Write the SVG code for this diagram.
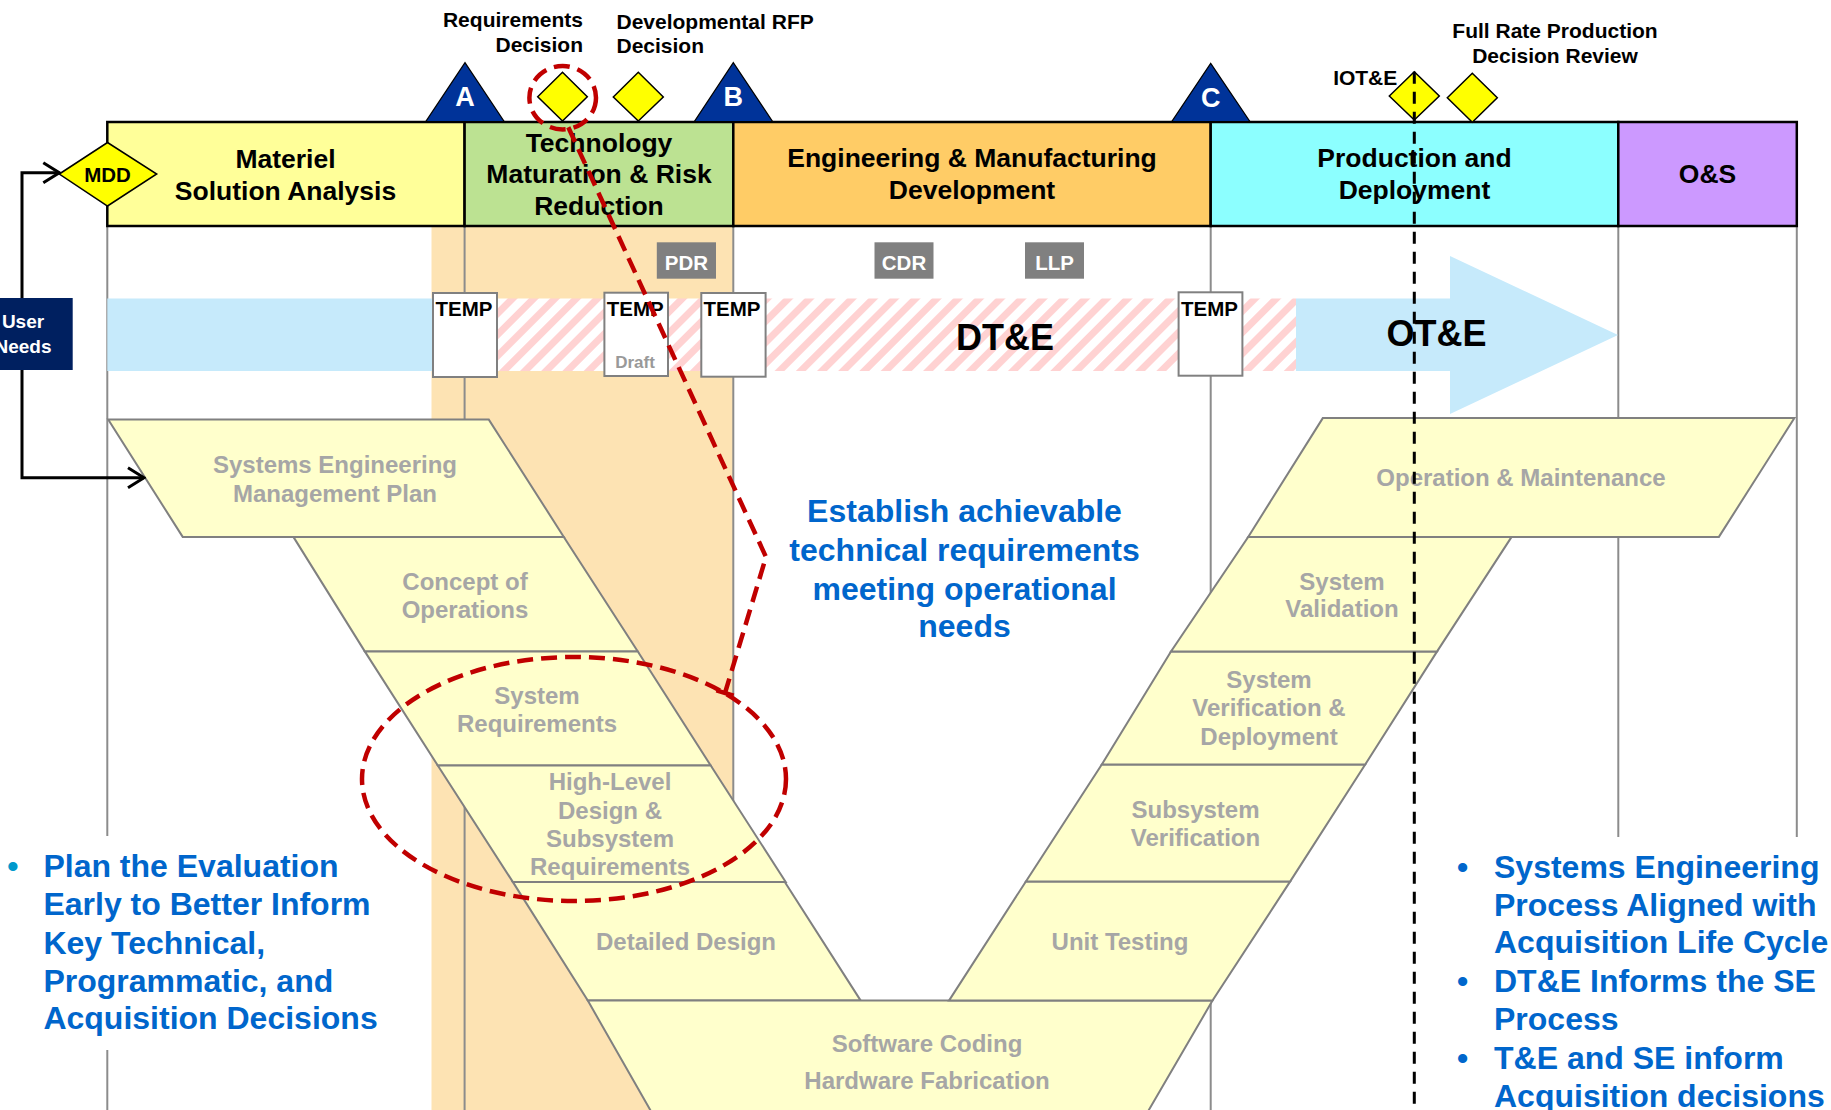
<svg xmlns="http://www.w3.org/2000/svg" width="1831" height="1110" viewBox="0 0 1831 1110">
  <defs>
    <style>
      text { font-family: "Liberation Sans", Arial, sans-serif; font-weight: bold; }
      .phase { stroke: #000; stroke-width: 2.5; }
      .ph { font-size: 26.5px; fill: #000; text-anchor: middle; }
      .top { font-size: 21px; fill: #000; }
      .ms { fill: #003399; stroke: #000; stroke-width: 1.2; }
      .msl { font-size: 27px; fill: #fff; text-anchor: middle; }
      .dec { fill: #FFFF00; stroke: #000; stroke-width: 1.5; }
      .grid { stroke: #8C8C8C; stroke-width: 2; fill: none; }
      .temp { fill: #fff; stroke: #808080; stroke-width: 2; }
      .tempt { font-size: 20.5px; fill: #000; }
      .rev { fill: #808080; }
      .revt { font-size: 20.5px; fill: #fff; text-anchor: middle; }
      .v { fill: #FFFFCC; stroke: #808080; stroke-width: 2; }
      .vt { font-size: 24px; fill: #A6A6A6; text-anchor: middle; }
      .blue { font-size: 32px; fill: #0066CC; }
      .red { fill: none; stroke: #C00000; stroke-width: 4.5; stroke-dasharray: 16 8; }
      .conn { fill: none; stroke: #000; stroke-width: 3; }
    </style>
    <pattern id="hatch" width="15" height="15" patternUnits="userSpaceOnUse" patternTransform="rotate(45)">
      <rect width="15" height="15" fill="#fff"/>
      <rect width="7" height="15" fill="#FFD2D2"/>
    </pattern>
    <marker id="open" viewBox="0 0 20 24" refX="18" refY="12" markerWidth="20" markerHeight="24" markerUnits="userSpaceOnUse" orient="auto">
      <path d="M2,2 L18,12 L2,22" fill="none" stroke="#000" stroke-width="3"/>
    </marker>
  </defs>

  <rect width="1831" height="1110" fill="#fff"/>

  <!-- TMRR shaded column -->
  <rect x="431.5" y="226" width="301.8" height="884" fill="#FDE3B3"/>

  <!-- phase boundary rules -->
  <g id="rules" class="grid">
    <line x1="107.3" y1="226" x2="107.3" y2="1110"/>
    <line x1="464.6" y1="226" x2="464.6" y2="1110"/>
    <line x1="733.3" y1="226" x2="733.3" y2="1110"/>
    <line x1="1210.7" y1="226" x2="1210.7" y2="1110"/>
    <line x1="1618.3" y1="226" x2="1618.3" y2="1110"/>
    <line x1="1796.8" y1="226" x2="1796.8" y2="1110"/>
  </g>

  <!-- clear areas behind the bullet lists -->
  <rect x="0" y="836" width="390" height="214" fill="#fff"/>
  <rect x="1440" y="837" width="391" height="273" fill="#fff"/>

  <!-- test bands -->
  <g id="bands">
    <rect x="107.3" y="298.5" width="324.7" height="72.5" fill="#C6EAFB"/>
    <rect x="432" y="298.5" width="864" height="72.5" fill="url(#hatch)"/>
    <polygon points="1296,298.5 1450,298.5 1450,256 1618,335 1450,414 1450,371 1296,371" fill="#C6EAFB"/>
    <text x="1005" y="350" font-size="36" text-anchor="middle" fill="#000">DT&amp;E</text>
    <text x="1436.5" y="346" font-size="36" text-anchor="middle" fill="#000">OT&amp;E</text>
  </g>

  <!-- TEMP documents -->
  <g id="temp1">
    <rect class="temp" x="433" y="293" width="64" height="84"/>
    <text class="tempt" x="435.5" y="316">TEMP</text>
  </g>
  <g id="temp2">
    <rect class="temp" x="604.4" y="292.7" width="63.6" height="83.3"/>
    <text class="tempt" x="606.7" y="315.5">TEMP</text>
    <text x="635" y="367.5" font-size="17" fill="#999" text-anchor="middle">Draft</text>
  </g>
  <g id="temp3">
    <rect class="temp" x="701.3" y="293" width="64.3" height="83.7"/>
    <text class="tempt" x="703.5" y="315.5">TEMP</text>
  </g>
  <g id="temp4">
    <rect class="temp" x="1178.6" y="292.3" width="63.8" height="83.4"/>
    <text class="tempt" x="1181" y="315.5">TEMP</text>
  </g>

  <!-- technical reviews -->
  <g id="pdr">
    <rect class="rev" x="656.8" y="242.3" width="59.2" height="36.4"/>
    <text class="revt" x="686.4" y="269.5">PDR</text>
  </g>
  <g id="cdr">
    <rect class="rev" x="874.5" y="242.3" width="59" height="36.4"/>
    <text class="revt" x="904" y="269.5">CDR</text>
  </g>
  <g id="llp">
    <rect class="rev" x="1025" y="242.3" width="59" height="36.4"/>
    <text class="revt" x="1054.5" y="269.5">LLP</text>
  </g>

  <!-- acquisition phases -->
  <g id="phase-msa">
    <rect class="phase" x="107.3" y="122" width="357.3" height="104" fill="#FFFF99"/>
    <text class="ph" x="285.5" y="168">Materiel</text>
    <text class="ph" x="285.5" y="200">Solution Analysis</text>
  </g>
  <g id="phase-tmrr">
    <rect class="phase" x="464.6" y="122" width="268.7" height="104" fill="#BCE292"/>
    <text class="ph" x="599" y="151.5">Technology</text>
    <text class="ph" x="599" y="182.7">Maturation &amp; Risk</text>
    <text class="ph" x="599" y="215">Reduction</text>
  </g>
  <g id="phase-emd">
    <rect class="phase" x="733.3" y="122" width="477.4" height="104" fill="#FFCC66"/>
    <text class="ph" x="972" y="167">Engineering &amp; Manufacturing</text>
    <text class="ph" x="972" y="199">Development</text>
  </g>
  <g id="phase-pd">
    <rect class="phase" x="1210.7" y="122" width="407.6" height="104" fill="#8CFFFF"/>
    <text class="ph" x="1414.5" y="167">Production and</text>
    <text class="ph" x="1414.5" y="199">Deployment</text>
  </g>
  <g id="phase-os">
    <rect class="phase" x="1618.3" y="122" width="178.5" height="104" fill="#CC99FF"/>
    <text class="ph" x="1707.5" y="183">O&amp;S</text>
  </g>

  <!-- milestones -->
  <g id="milestone-a">
    <polygon class="ms" points="425.7,121.7 465,62.7 504.3,121.7"/>
    <text class="msl" x="465" y="106">A</text>
  </g>
  <g id="milestone-b">
    <polygon class="ms" points="694.3,121.7 733.3,62.7 772.7,121.7"/>
    <text class="msl" x="733.3" y="106">B</text>
  </g>
  <g id="milestone-c">
    <polygon class="ms" points="1171.7,121.7 1210.7,63.3 1250,121.7"/>
    <text class="msl" x="1210.7" y="106.5">C</text>
  </g>

  <!-- decision points -->
  <g id="mdd">
    <polygon class="dec" points="59.3,174 107.5,142.5 156.7,174 107.5,206"/>
    <text x="107.5" y="181.7" font-size="20.5" text-anchor="middle" fill="#000">MDD</text>
  </g>
  <g id="req-decision">
    <polygon class="dec" points="537.7,96.7 562.5,72.3 587.3,96.7 562.5,121"/>
    <text class="top" x="583" y="26.7" text-anchor="end">Requirements</text>
    <text class="top" x="583" y="52.3" text-anchor="end">Decision</text>
  </g>
  <g id="rfp-decision">
    <polygon class="dec" points="613.3,97 638.3,72.3 663.3,97 638.3,121"/>
    <text class="top" x="616.5" y="29">Developmental RFP</text>
    <text class="top" x="616.5" y="53.3">Decision</text>
  </g>
  <g id="iote">
    <polygon class="dec" points="1389.3,96 1414.3,71.7 1439.3,96 1414.3,120"/>
    <text class="top" x="1397.3" y="85" text-anchor="end">IOT&amp;E</text>
  </g>
  <g id="frp-decision">
    <polygon class="dec" points="1447.3,97.8 1472.3,73.3 1497.3,97.8 1472.3,122.3"/>
    <text class="top" x="1555" y="38.3" text-anchor="middle">Full Rate Production</text>
    <text class="top" x="1555" y="62.7" text-anchor="middle">Decision Review</text>
  </g>

  <!-- systems engineering V -->
  <g id="v-semp">
    <polygon class="v" points="108.2,419.6 488.8,419.6 563.8,536.9 182.7,536.9"/>
    <text class="vt" x="335" y="473">Systems Engineering</text>
    <text class="vt" x="335" y="502">Management Plan</text>
  </g>
  <g id="v-conops">
    <polygon class="v" points="293.4,536.9 563.8,536.9 637.8,651.4 364.8,651.4"/>
    <text class="vt" x="465" y="590.4">Concept of</text>
    <text class="vt" x="465" y="618.4">Operations</text>
  </g>
  <g id="v-sysreq">
    <polygon class="v" points="364.8,651.4 637.8,651.4 710.7,765.5 437.8,765.5"/>
    <text class="vt" x="537" y="703.5">System</text>
    <text class="vt" x="537" y="732">Requirements</text>
  </g>
  <g id="v-hld">
    <polygon class="v" points="437.8,765.5 710.7,765.5 785.7,881.9 512.8,881.9"/>
    <text class="vt" x="610" y="789.7">High-Level</text>
    <text class="vt" x="610" y="818.5">Design &amp;</text>
    <text class="vt" x="610" y="847">Subsystem</text>
    <text class="vt" x="610" y="875">Requirements</text>
  </g>
  <g id="v-detailed">
    <polygon class="v" points="512.8,881.9 784.8,881.9 860.7,1000.6 587.8,1000.6"/>
    <text class="vt" x="686" y="950.3">Detailed Design</text>
  </g>
  <g id="v-coding">
    <polygon class="v" points="587.8,1000.6 1212.5,1000.6 1143,1120 656,1120"/>
    <text class="vt" x="927" y="1051.8">Software Coding</text>
    <text class="vt" x="927" y="1088.6">Hardware Fabrication</text>
  </g>
  <g id="v-unit">
    <polygon class="v" points="949,1000.6 1212.5,1000.6 1290.2,881.4 1025.9,881.4"/>
    <text class="vt" x="1120" y="950.3">Unit Testing</text>
  </g>
  <g id="v-subver">
    <polygon class="v" points="1025.9,881.4 1290.2,881.4 1365.2,764.5 1101.8,764.5"/>
    <text class="vt" x="1195.5" y="817.6">Subsystem</text>
    <text class="vt" x="1195.5" y="845.5">Verification</text>
  </g>
  <g id="v-sysver">
    <polygon class="v" points="1101.8,764.5 1365.2,764.5 1437.1,651.4 1171,651.4"/>
    <text class="vt" x="1269" y="688.2">System</text>
    <text class="vt" x="1269" y="716">Verification &amp;</text>
    <text class="vt" x="1269" y="745.4">Deployment</text>
  </g>
  <g id="v-sysval">
    <polygon class="v" points="1171,651.4 1437.1,651.4 1511.6,536.9 1248.2,536.9"/>
    <text class="vt" x="1342" y="589.5">System</text>
    <text class="vt" x="1342" y="617.4">Validation</text>
  </g>
  <g id="v-om">
    <polygon class="v" points="1248.2,536.9 1718.9,536.9 1794.4,418.1 1322.8,418.1"/>
    <text class="vt" x="1521" y="486">Operation &amp; Maintenance</text>
  </g>

  <!-- user needs -->
  <g id="user-needs">
    <rect x="-30" y="298" width="102.7" height="72" fill="#002060"/>
    <text x="23" y="328.3" font-size="19" fill="#fff" text-anchor="middle">User</text>
    <text x="23" y="352.7" font-size="19" fill="#fff" text-anchor="middle">Needs</text>
  </g>

  <!-- connectors -->
  <g id="connectors">
    <path class="conn" d="M22,298 V172.7 H59.3" marker-end="url(#open)"/>
    <path class="conn" d="M22,370 V477.8 H144" marker-end="url(#open)"/>
    <ellipse class="red" cx="562.7" cy="97.7" rx="33.3" ry="31.7"/>
    <path class="red" d="M568.3,127.3 L766,557 L725,693"/>
    <line x1="716.4" y1="690.4" x2="733.6" y2="695.6" stroke="#C00000" stroke-width="4.5"/>
    <ellipse class="red" cx="574" cy="779" rx="212" ry="122"/>
    <line x1="1414.3" y1="71.7" x2="1414.3" y2="1110" stroke="#000" stroke-width="3" stroke-dasharray="12 8"/>
  </g>

  <!-- callouts -->
  <g id="callout-center">
    <text class="blue" x="964.5" y="522" text-anchor="middle">Establish achievable</text>
    <text class="blue" x="964.5" y="560.6" text-anchor="middle">technical requirements</text>
    <text class="blue" x="964.5" y="599.7" text-anchor="middle">meeting operational</text>
    <text class="blue" x="964.5" y="637.4" text-anchor="middle">needs</text>
  </g>
  <g id="callout-left">
    <text x="12.8" y="877.2" font-size="32" fill="#0099CC" text-anchor="middle">•</text>
    <text class="blue" x="43.4" y="877.2">Plan the Evaluation</text>
    <text class="blue" x="43.4" y="915.4">Early to Better Inform</text>
    <text class="blue" x="43.4" y="953.5">Key Technical,</text>
    <text class="blue" x="43.4" y="992.2">Programmatic, and</text>
    <text class="blue" x="43.4" y="1029.4">Acquisition Decisions</text>
  </g>
  <g id="callout-right">
    <text x="1462.5" y="877.8" font-size="32" fill="#0066CC" text-anchor="middle">•</text>
    <text x="1462.5" y="992.4" font-size="32" fill="#0066CC" text-anchor="middle">•</text>
    <text x="1462.5" y="1069.4" font-size="32" fill="#0066CC" text-anchor="middle">•</text>
    <text class="blue" x="1494" y="877.8">Systems Engineering</text>
    <text class="blue" x="1494" y="916.3">Process Aligned with</text>
    <text class="blue" x="1494" y="953.4">Acquisition Life Cycle</text>
    <text class="blue" x="1494" y="992.4">DT&amp;E Informs the SE</text>
    <text class="blue" x="1494" y="1030.4">Process</text>
    <text class="blue" x="1494" y="1069.4">T&amp;E and SE inform</text>
    <text class="blue" x="1494" y="1106.5">Acquisition decisions</text>
  </g>
</svg>
